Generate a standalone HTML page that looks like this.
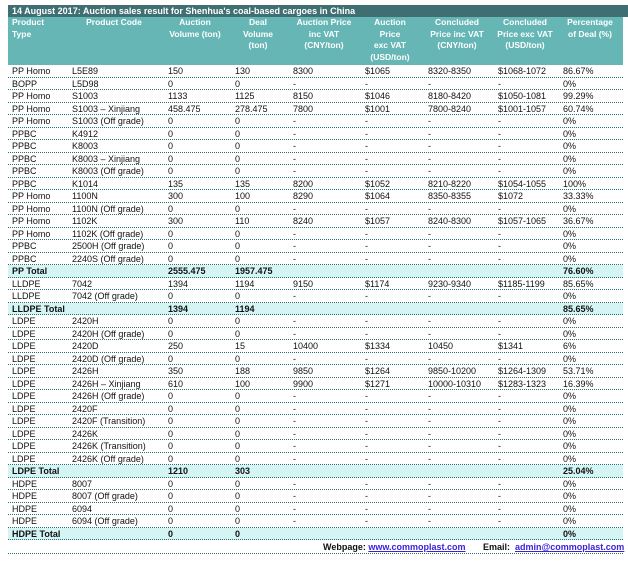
<!DOCTYPE html>
<html><head><meta charset="utf-8"><style>
body{margin:0;width:628px;height:562px;background:#fff;position:relative;overflow:hidden;font-family:"Liberation Sans",sans-serif;font-size:9px;color:#111}
.title{position:absolute;left:8px;top:5px;width:620px;height:12px;background:#3f6f72;color:#fff;font-weight:bold;font-size:9px;line-height:12px;padding-left:4px;box-sizing:border-box}
.hdr{position:absolute;left:8px;top:17px;width:615px;height:48px;background:#66b6b6}
.h{position:absolute;top:17px;color:#fff;font-weight:bold;font-size:8.5px;line-height:11.6px;text-align:center;transform:translateX(-50%);white-space:nowrap}
.r{position:absolute;left:8px;width:615px;height:12.5px;border-bottom:1px dotted #2a6f6f;box-sizing:border-box}
.r span{position:absolute;top:1px;line-height:11px;white-space:nowrap}
.t{background:#d4f5f4;font-weight:bold}
.a{left:4px}.b{left:64px}.c{left:160px}.d{left:227px}.e{left:285px}.f{left:357px}.g{left:420px}.i{left:490px}.j{left:555px}
.foot{position:absolute;top:542px;font-weight:bold;line-height:11px}
.foot u{color:#3b22d8}
</style></head><body>
<div class="title">14 August 2017: Auction sales result for Shenhua's coal-based cargoes in China</div>
<div class="hdr"></div>
<div class="h" style="left:12px;transform:none;text-align:left">Product<br>Type</div>
<div class="h" style="left:114px">Product Code</div>
<div class="h" style="left:195px">Auction<br>Volume (ton)</div>
<div class="h" style="left:258px">Deal<br>Volume<br>(ton)</div>
<div class="h" style="left:324px">Auction Price<br>inc VAT<br>(CNY/ton)</div>
<div class="h" style="left:390px">Auction<br>Price<br>exc VAT<br>(USD/ton)</div>
<div class="h" style="left:457px">Concluded<br>Price inc VAT<br>(CNY/ton)</div>
<div class="h" style="left:525px">Concluded<br>Price exc VAT<br>(USD/ton)</div>
<div class="h" style="left:590px">Percentage<br>of Deal (%)</div>

<div class="r" style="top:65px"><span class="a">PP Homo</span><span class="b">L5E89</span><span class="c">150</span><span class="d">130</span><span class="e">8300</span><span class="f">$1065</span><span class="g">8320-8350</span><span class="i">$1068-1072</span><span class="j">86.67%</span></div>
<div class="r" style="top:77.5px"><span class="a">BOPP</span><span class="b">L5D98</span><span class="c">0</span><span class="d">0</span><span class="e">-</span><span class="f">-</span><span class="g">-</span><span class="i">-</span><span class="j">0%</span></div>
<div class="r" style="top:90px"><span class="a">PP Homo</span><span class="b">S1003</span><span class="c">1133</span><span class="d">1125</span><span class="e">8150</span><span class="f">$1046</span><span class="g">8180-8420</span><span class="i">$1050-1081</span><span class="j">99.29%</span></div>
<div class="r" style="top:102.5px"><span class="a">PP Homo</span><span class="b">S1003 – Xinjiang</span><span class="c">458.475</span><span class="d">278.475</span><span class="e">7800</span><span class="f">$1001</span><span class="g">7800-8240</span><span class="i">$1001-1057</span><span class="j">60.74%</span></div>
<div class="r" style="top:115px"><span class="a">PP Homo</span><span class="b">S1003 (Off grade)</span><span class="c">0</span><span class="d">0</span><span class="e">-</span><span class="f">-</span><span class="g">-</span><span class="i">-</span><span class="j">0%</span></div>
<div class="r" style="top:127.5px"><span class="a">PPBC</span><span class="b">K4912</span><span class="c">0</span><span class="d">0</span><span class="e">-</span><span class="f">-</span><span class="g">-</span><span class="i">-</span><span class="j">0%</span></div>
<div class="r" style="top:140px"><span class="a">PPBC</span><span class="b">K8003</span><span class="c">0</span><span class="d">0</span><span class="e">-</span><span class="f">-</span><span class="g">-</span><span class="i">-</span><span class="j">0%</span></div>
<div class="r" style="top:152.5px"><span class="a">PPBC</span><span class="b">K8003 – Xinjiang</span><span class="c">0</span><span class="d">0</span><span class="e">-</span><span class="f">-</span><span class="g">-</span><span class="i">-</span><span class="j">0%</span></div>
<div class="r" style="top:165px"><span class="a">PPBC</span><span class="b">K8003 (Off grade)</span><span class="c">0</span><span class="d">0</span><span class="e">-</span><span class="f">-</span><span class="g">-</span><span class="i">-</span><span class="j">0%</span></div>
<div class="r" style="top:177.5px"><span class="a">PPBC</span><span class="b">K1014</span><span class="c">135</span><span class="d">135</span><span class="e">8200</span><span class="f">$1052</span><span class="g">8210-8220</span><span class="i">$1054-1055</span><span class="j">100%</span></div>
<div class="r" style="top:190px"><span class="a">PP Homo</span><span class="b">1100N</span><span class="c">300</span><span class="d">100</span><span class="e">8290</span><span class="f">$1064</span><span class="g">8350-8355</span><span class="i">$1072</span><span class="j">33.33%</span></div>
<div class="r" style="top:202.5px"><span class="a">PP Homo</span><span class="b">1100N (Off grade)</span><span class="c">0</span><span class="d">0</span><span class="e">-</span><span class="f">-</span><span class="g">-</span><span class="i">-</span><span class="j">0%</span></div>
<div class="r" style="top:215px"><span class="a">PP Homo</span><span class="b">1102K</span><span class="c">300</span><span class="d">110</span><span class="e">8240</span><span class="f">$1057</span><span class="g">8240-8300</span><span class="i">$1057-1065</span><span class="j">36.67%</span></div>
<div class="r" style="top:227.5px"><span class="a">PP Homo</span><span class="b">1102K (Off grade)</span><span class="c">0</span><span class="d">0</span><span class="e">-</span><span class="f">-</span><span class="g">-</span><span class="i">-</span><span class="j">0%</span></div>
<div class="r" style="top:240px"><span class="a">PPBC</span><span class="b">2500H (Off grade)</span><span class="c">0</span><span class="d">0</span><span class="e">-</span><span class="f">-</span><span class="g">-</span><span class="i">-</span><span class="j">0%</span></div>
<div class="r" style="top:252.5px"><span class="a">PPBC</span><span class="b">2240S (Off grade)</span><span class="c">0</span><span class="d">0</span><span class="e">-</span><span class="f">-</span><span class="g">-</span><span class="i">-</span><span class="j">0%</span></div>
<div class="r t" style="top:265px"><span class="a">PP Total</span><span class="c">2555.475</span><span class="d">1957.475</span><span class="j">76.60%</span></div>
<div class="r" style="top:277.5px"><span class="a">LLDPE</span><span class="b">7042</span><span class="c">1394</span><span class="d">1194</span><span class="e">9150</span><span class="f">$1174</span><span class="g">9230-9340</span><span class="i">$1185-1199</span><span class="j">85.65%</span></div>
<div class="r" style="top:290px"><span class="a">LLDPE</span><span class="b">7042 (Off grade)</span><span class="c">0</span><span class="d">0</span><span class="e">-</span><span class="f">-</span><span class="g">-</span><span class="i">-</span><span class="j">0%</span></div>
<div class="r t" style="top:302.5px"><span class="a">LLDPE Total</span><span class="c">1394</span><span class="d">1194</span><span class="j">85.65%</span></div>
<div class="r" style="top:315px"><span class="a">LDPE</span><span class="b">2420H</span><span class="c">0</span><span class="d">0</span><span class="e">-</span><span class="f">-</span><span class="g">-</span><span class="i">-</span><span class="j">0%</span></div>
<div class="r" style="top:327.5px"><span class="a">LDPE</span><span class="b">2420H (Off grade)</span><span class="c">0</span><span class="d">0</span><span class="e">-</span><span class="f">-</span><span class="g">-</span><span class="i">-</span><span class="j">0%</span></div>
<div class="r" style="top:340px"><span class="a">LDPE</span><span class="b">2420D</span><span class="c">250</span><span class="d">15</span><span class="e">10400</span><span class="f">$1334</span><span class="g">10450</span><span class="i">$1341</span><span class="j">6%</span></div>
<div class="r" style="top:352.5px"><span class="a">LDPE</span><span class="b">2420D (Off grade)</span><span class="c">0</span><span class="d">0</span><span class="e">-</span><span class="f">-</span><span class="g">-</span><span class="i">-</span><span class="j">0%</span></div>
<div class="r" style="top:365px"><span class="a">LDPE</span><span class="b">2426H</span><span class="c">350</span><span class="d">188</span><span class="e">9850</span><span class="f">$1264</span><span class="g">9850-10200</span><span class="i">$1264-1309</span><span class="j">53.71%</span></div>
<div class="r" style="top:377.5px"><span class="a">LDPE</span><span class="b">2426H – Xinjiang</span><span class="c">610</span><span class="d">100</span><span class="e">9900</span><span class="f">$1271</span><span class="g">10000-10310</span><span class="i">$1283-1323</span><span class="j">16.39%</span></div>
<div class="r" style="top:390px"><span class="a">LDPE</span><span class="b">2426H (Off grade)</span><span class="c">0</span><span class="d">0</span><span class="e">-</span><span class="f">-</span><span class="g">-</span><span class="i">-</span><span class="j">0%</span></div>
<div class="r" style="top:402.5px"><span class="a">LDPE</span><span class="b">2420F</span><span class="c">0</span><span class="d">0</span><span class="e">-</span><span class="f">-</span><span class="g">-</span><span class="i">-</span><span class="j">0%</span></div>
<div class="r" style="top:415px"><span class="a">LDPE</span><span class="b">2420F (Transition)</span><span class="c">0</span><span class="d">0</span><span class="e">-</span><span class="f">-</span><span class="g">-</span><span class="i">-</span><span class="j">0%</span></div>
<div class="r" style="top:427.5px"><span class="a">LDPE</span><span class="b">2426K</span><span class="c">0</span><span class="d">0</span><span class="e">-</span><span class="f">-</span><span class="g">-</span><span class="i">-</span><span class="j">0%</span></div>
<div class="r" style="top:440px"><span class="a">LDPE</span><span class="b">2426K (Transition)</span><span class="c">0</span><span class="d">0</span><span class="e">-</span><span class="f">-</span><span class="g">-</span><span class="i">-</span><span class="j">0%</span></div>
<div class="r" style="top:452.5px"><span class="a">LDPE</span><span class="b">2426K (Off grade)</span><span class="c">0</span><span class="d">0</span><span class="e">-</span><span class="f">-</span><span class="g">-</span><span class="i">-</span><span class="j">0%</span></div>
<div class="r t" style="top:465px"><span class="a">LDPE Total</span><span class="c">1210</span><span class="d">303</span><span class="j">25.04%</span></div>
<div class="r" style="top:477.5px"><span class="a">HDPE</span><span class="b">8007</span><span class="c">0</span><span class="d">0</span><span class="e">-</span><span class="f">-</span><span class="g">-</span><span class="i">-</span><span class="j">0%</span></div>
<div class="r" style="top:490px"><span class="a">HDPE</span><span class="b">8007 (Off grade)</span><span class="c">0</span><span class="d">0</span><span class="e">-</span><span class="f">-</span><span class="g">-</span><span class="i">-</span><span class="j">0%</span></div>
<div class="r" style="top:502.5px"><span class="a">HDPE</span><span class="b">6094</span><span class="c">0</span><span class="d">0</span><span class="e">-</span><span class="f">-</span><span class="g">-</span><span class="i">-</span><span class="j">0%</span></div>
<div class="r" style="top:515px"><span class="a">HDPE</span><span class="b">6094 (Off grade)</span><span class="c">0</span><span class="d">0</span><span class="e">-</span><span class="f">-</span><span class="g">-</span><span class="i">-</span><span class="j">0%</span></div>
<div class="r t" style="top:527.5px"><span class="a">HDPE Total</span><span class="c">0</span><span class="d">0</span><span class="j">0%</span></div>
<div class="r" style="top:540px;height:14px"></div>
<div class="foot" style="left:323px">Webpage: <u>www.commoplast.com</u></div>
<div class="foot" style="left:483px">Email:&nbsp; <u>admin@commoplast.com</u></div>
</body></html>
